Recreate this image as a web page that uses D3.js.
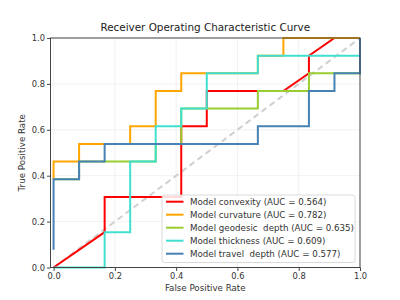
<!DOCTYPE html>
<html><head><meta charset="utf-8">
<script src="https://cdn.jsdelivr.net/npm/d3@7"></script>
<style>body{margin:0;background:#fff}text{font-family:"DejaVu Sans",sans-serif}</style>
</head><body><svg id="c" width="400" height="300"></svg>
<script>
const seriesNames = ["Model convexity (AUC = 0.564)","Model curvature (AUC = 0.782)","Model geodesic  depth (AUC = 0.635)","Model thickness (AUC = 0.609)","Model travel  depth (AUC = 0.577)"];
const seriesColors = ["#ff0000","#ffa500","#9acd32","#40e0d0","#4682b4"];
const convexityFpr = [0,2/12,2/12,5/12,5/12,6/12,6/12,9/12,10/12,10/12,11/12,1];
const convexityTpr = [0,2/13,4/13,4/13,8/13,8/13,10/13,10/13,11/13,12/13,1,1];
const curvatureFpr = [0,0,1/12,1/12,3/12,3/12,4/12,4/12,5/12,5/12,8/12,8/12,9/12,9/12,1];
const curvatureTpr = [5/13,6/13,6/13,7/13,7/13,8/13,8/13,10/13,10/13,11/13,11/13,12/13,12/13,1,1];
const geodesicFpr = [0,1/12,1/12,4/12,4/12,5/12,5/12,8/12,8/12,10/12,10/12,1,1];
const geodesicTpr = [5/13,5/13,6/13,6/13,7/13,7/13,9/13,9/13,10/13,10/13,11/13,11/13,1];
const thicknessFpr = [0,2/12,2/12,3/12,3/12,4/12,4/12,5/12,5/12,6/12,6/12,8/12,8/12,1,1];
const thicknessTpr = [0,0,2/13,2/13,6/13,6/13,8/13,8/13,9/13,9/13,11/13,11/13,12/13,12/13,1];
const travelFpr = [0,0,1/12,1/12,2/12,2/12,8/12,8/12,10/12,10/12,11/12,11/12,1,1];
const travelTpr = [1/13,5/13,5/13,6/13,6/13,7/13,7/13,8/13,8/13,10/13,10/13,11/13,11/13,1];
const xTicks = [0,0.2,0.4,0.6,0.8,1.0];
const yTicks = [0,0.2,0.4,0.6,0.8,1.0];

const fprs=[convexityFpr,curvatureFpr,geodesicFpr,thicknessFpr,travelFpr];
const tprs=[convexityTpr,curvatureTpr,geodesicTpr,thicknessTpr,travelTpr];

const svg=d3.select("#c");
const L=50.5,R=360,T=38,B=267.5;
const x=d3.scaleLinear().domain([-0.01,1.0]).range([L,R]);
const y=d3.scaleLinear().domain([0,1]).range([B,T]);

// grid
svg.append("g").selectAll("line").data(xTicks).join("line")
 .attr("x1",d=>x(d)).attr("x2",d=>x(d)).attr("y1",T).attr("y2",B).attr("stroke","#ededed").attr("stroke-width",0.8);
svg.append("g").selectAll("line").data(yTicks).join("line")
 .attr("x1",L).attr("x2",R).attr("y1",d=>y(d)).attr("y2",d=>y(d)).attr("stroke","#ededed").attr("stroke-width",0.8);

// diagonal
svg.append("line").attr("x1",x(0)).attr("y1",y(0)).attr("x2",x(1)).attr("y2",y(1))
 .attr("stroke","#cfcfcf").attr("stroke-width",2).attr("stroke-dasharray","6,4");

const line=d3.line().x(d=>x(d[0])).y(d=>y(d[1]));
fprs.forEach((f,i)=>{
  const pts=f.map((v,j)=>[v,tprs[i][j]]);
  svg.append("path").attr("d",line(pts)).attr("fill","none").attr("stroke",seriesColors[i]).attr("stroke-width",2);
});

// axes
const xa=svg.append("g").attr("transform",`translate(0,${B})`).call(d3.axisBottom(x).tickValues(xTicks).tickFormat(d3.format(".1f")).tickSize(3.5).tickPadding(2.5));
const ya=svg.append("g").attr("transform",`translate(${L},0)`).call(d3.axisLeft(y).tickValues(yTicks).tickFormat(d3.format(".1f")).tickSize(3.5).tickPadding(2));
[xa,ya].forEach(a=>{a.select(".domain").remove();a.selectAll("text").attr("font-size",8.3).attr("fill","#333").style("font-family","DejaVu Sans");a.selectAll("line").attr("stroke","#444");});
svg.append("rect").attr("x",L).attr("y",T).attr("width",R-L).attr("height",B-T).attr("fill","none").attr("stroke","#444").attr("stroke-width",1);

// labels
svg.append("text").attr("x",(L+R)/2).attr("y",30.5).attr("text-anchor","middle").attr("font-size",10.4).attr("fill","#222").text("Receiver Operating Characteristic Curve");
svg.append("text").attr("x",(L+R)/2).attr("y",290.5).attr("text-anchor","middle").attr("font-size",8.7).attr("fill","#333").text("False Positive Rate");
svg.append("text").attr("transform",`translate(25.3,${(T+B)/2}) rotate(-90)`).attr("text-anchor","middle").attr("font-size",8.7).attr("fill","#333").text("True Positive Rate");

// legend
const lg=svg.append("g");
lg.append("rect").attr("x",162).attr("y",195).attr("width",193).attr("height",67.5).attr("rx",2.5).attr("fill","#fff").attr("fill-opacity",0.85).attr("stroke","#d0d0d0").attr("stroke-width",0.8);
seriesNames.forEach((n,i)=>{
  const yy=201.7+i*13;
  lg.append("line").attr("x1",166).attr("x2",183.5).attr("y1",yy).attr("y2",yy).attr("stroke",seriesColors[i]).attr("stroke-width",2);
  lg.append("text").attr("x",190).attr("y",yy+3.2).attr("font-size",8.7).attr("fill","#333").style("white-space","pre").text(n);
});
</script></body></html>
